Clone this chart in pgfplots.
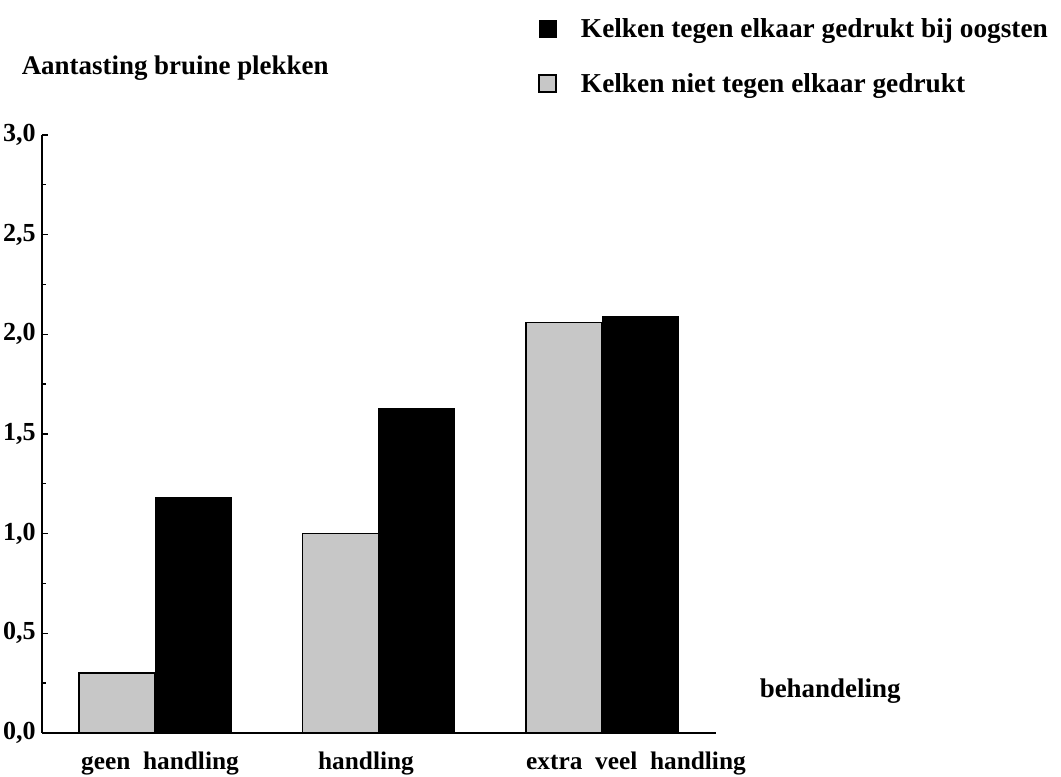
\documentclass[border=0pt]{standalone}
\usepackage{fontspec}
\setmainfont{Liberation Serif}
\usepackage{pgfplots}
\pgfplotsset{compat=1.18}
\definecolor{bargrey}{gray}{0.78}
\begin{document}
\begin{tikzpicture}
\path[use as bounding box] (-31.5pt,-33pt) rectangle (764.25pt,549.75pt);
\begin{axis}[
  anchor=south west, at={(0,0)},
  scale only axis, width=505.5pt, height=448.5pt,
  xmin=-0.506, xmax=2.51, ymin=0, ymax=3,
  axis x line=bottom, axis y line=left,
  axis line style={-, line width=1.3pt},
  ytick={0,0.5,1,1.5,2,2.5,3},
  minor ytick={0.25,0.75,1.25,1.75,2.25,2.75},
  tick align=inside,
  major tick length=4.5pt, minor tick length=3pt,
  every tick/.style={black, line width=1pt},
  yticklabel style={font=\fontsize{19.5}{22}\selectfont\bfseries, inner xsep=4.5pt},
  /pgf/number format/assume math mode=true,
  /pgf/number format/use comma,
  /pgf/number format/fixed,
  /pgf/number format/fixed zerofill,
  /pgf/number format/precision=1,
  xtick={0.022,0.944,2.152},
  xticklabels={geen\ \ handling, handling, extra\ \ veel\ \ handling},
  x tick style={draw=none},
  xticklabel style={font=\fontsize{19}{22}\selectfont\bfseries, inner ysep=0pt, yshift=-14pt},
  ylabel={Aantasting bruine plekken},
  every axis y label/.style={at={(rel axis cs:-0.037,1.111)}, anchor=west, font=\fontsize{20.2}{24}\selectfont\bfseries},
  xlabel={behandeling},
  every axis x label/.style={at={(rel axis cs:1.058,0.07)}, anchor=west, font=\fontsize{20.2}{24}\selectfont\bfseries},
  legend style={at={(0.736,1.199)}, anchor=north west, draw=none, fill=none, inner sep=0pt,
    font=\fontsize{20.5}{24}\selectfont\bfseries, row sep=21pt, cells={anchor=west}},
  legend image code/.code={\draw[#1] (0pt,-6.4pt) rectangle (12.8pt,6.4pt);},
  bar width=0.34,
]
\addlegendimage{fill=black, draw=black, line width=0.8pt}
\addlegendentry{\hspace{16pt}Kelken tegen elkaar gedrukt bij oogsten}
\addlegendimage{fill=bargrey, draw=black, line width=1.2pt}
\addlegendentry{\hspace{16pt}Kelken niet tegen elkaar gedrukt}
\addplot[ybar, bar shift=-0.17, fill=bargrey, draw=black, line width=1.2pt, forget plot]
  coordinates {(0,0.30) (1,1.00) (2,2.06)};
\addplot[ybar, bar shift=0.17, fill=black, draw=black, line width=0.5pt, forget plot]
  coordinates {(0,1.18) (1,1.63) (2,2.09)};
\end{axis}
\end{tikzpicture}
\end{document}
